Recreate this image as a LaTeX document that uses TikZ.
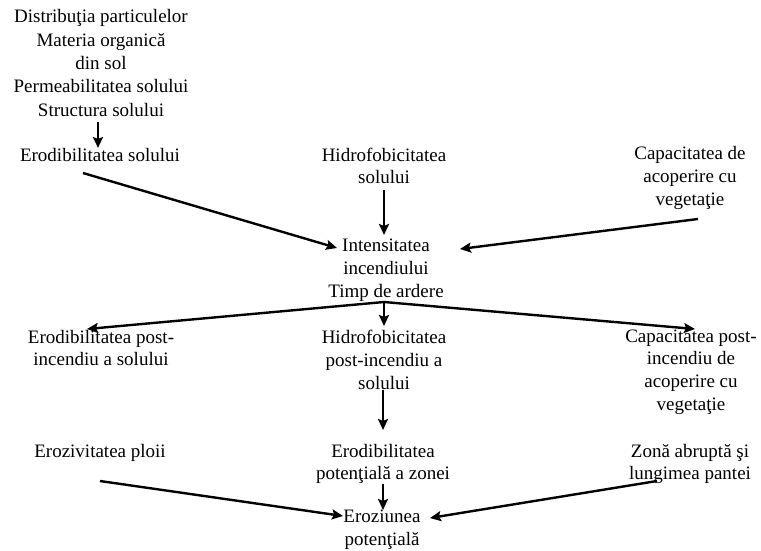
\documentclass[tikz,border=0pt]{standalone}
\usepackage{fontspec}
\setmainfont{Liberation Serif}
\usetikzlibrary{arrows.meta}
\begin{document}
\begin{tikzpicture}[x=1pt,y=-1pt,
  lbl/.style={align=center,inner sep=0pt,font=\fontsize{19}{22.8}\selectfont},
  arr/.style={line width=2.4pt,-{Stealth[length=11pt,width=10pt,inset=2pt]}}]
\useasboundingbox (0,0) rectangle (761,551);
\fill[white] (0,0) rectangle (761,551);

% soil properties
\node[lbl,font=\fontsize{19}{23.4}\selectfont] (top) at (101,63) {Distribuţia particulelor\\Materia organică\\din sol\\Permeabilitatea solului\\Structura solului};
\node[lbl] (ero) at (100,155) {Erodibilitatea solului};
\node[lbl] (hid) at (384,166) {Hidrofobicitatea\\solului};
\node[lbl] (cap) at (690,178) {Capacitatea de\\acoperire cu\\vegetaţie};

% fire
\node[lbl] (int) at (386,270) {Intensitatea\\incendiului\\Timp de ardere};

% post-fire state
\node[lbl] (epost) at (101,348) {Erodibilitatea post-\\incendiu a solului};
\node[lbl] (hpost) at (384,360) {Hidrofobicitatea\\post-incendiu a\\solului};
\node[lbl] (cpost) at (691,372) {Capacitatea post-\\incendiu de\\acoperire cu\\vegetaţie};

% erosion factors
\node[lbl] (ploii) at (100,453) {Erozivitatea ploii};
\node[lbl] (epot) at (383,464) {Erodibilitatea\\potenţială a zonei};
\node[lbl] (zona) at (690,464) {Zonă abruptă şi\\lungimea pantei};
\node[lbl] (eroz) at (382,530) {Eroziunea\\potenţială};

% connectors
\draw[arr] ([shift={(-3,59)}]top.center) -- ([shift={(-2,-7)}]ero.center);
\draw[arr] ([shift={(-17,18)}]ero.center) -- ([shift={(-49,-22)}]int.center);
\draw[arr] ([shift={(0,24)}]hid.center) -- ([shift={(-2,-35)}]int.center);
\draw[arr] ([shift={(8,41)}]cap.center) -- ([shift={(74,-21)}]int.center);

\coordinate (split) at ([shift={(-2,32)}]int.center);
\draw[arr] (split) -- ([shift={(-14,-19)}]epost.center);
\draw[arr] (split) -- ([shift={(0,-34)}]hpost.center);
\draw[arr] (split) -- ([shift={(4,-43)}]cpost.center);

\draw[arr] ([shift={(-1,30)}]hpost.center) -- ([shift={(0,-34)}]epot.center);
\draw[arr] ([shift={(0,28)}]ploii.center) -- ([shift={(-39,-14)}]eroz.center);
\draw[arr] ([shift={(0,20)}]epot.center) -- ([shift={(1,-20)}]eroz.center);
\draw[arr] ([shift={(-33,17)}]zona.center) -- ([shift={(48,-12)}]eroz.center);
\end{tikzpicture}
\end{document}
